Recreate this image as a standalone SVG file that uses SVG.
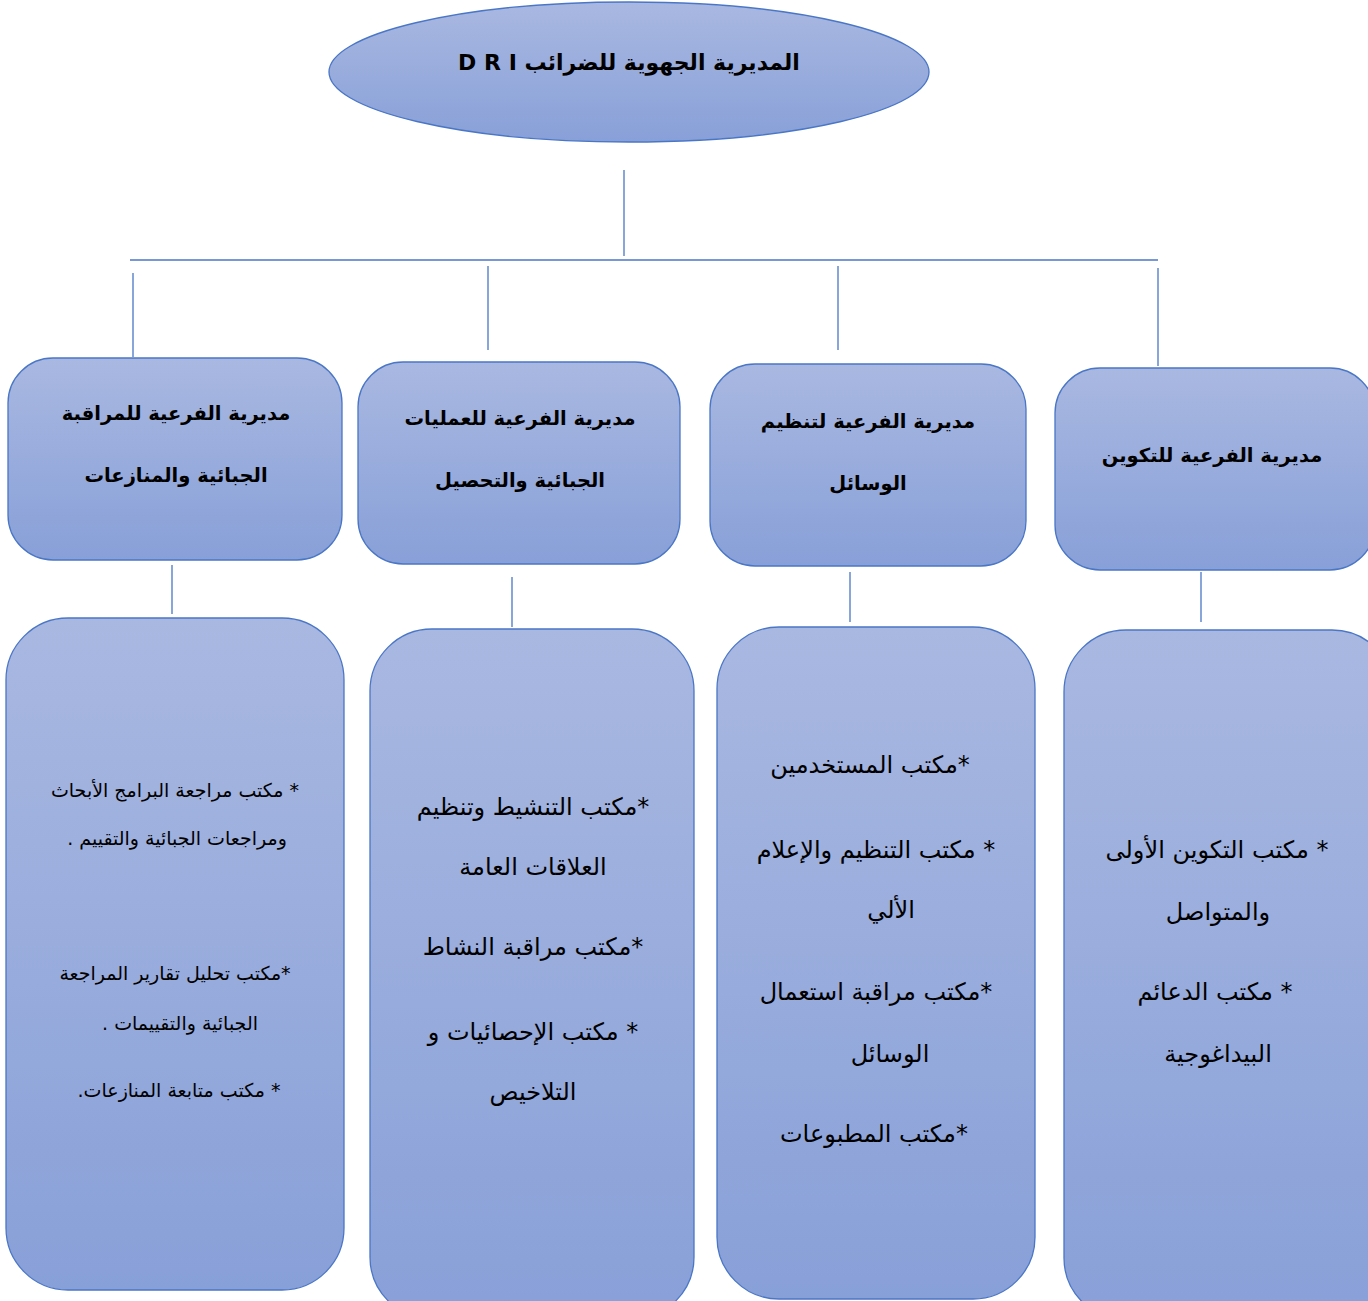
<svg xmlns="http://www.w3.org/2000/svg" width="1368" height="1301" viewBox="0 0 1368 1301">
<defs>
<linearGradient id="g" x1="0" y1="0" x2="0" y2="1">
<stop offset="0" stop-color="#a9b8e1"/>
<stop offset="1" stop-color="#88a0d8"/>
</linearGradient>
<style>
.shape{fill:url(#g);stroke:#4a76c6;stroke-width:1.3}
.ln{stroke:#4a76c6;stroke-width:1.3;fill:none}
text{font-family:"DejaVu Sans",sans-serif;fill:#000;text-anchor:middle;direction:rtl}
.t{font-size:22px;font-weight:bold}
.h{font-size:19.5px;font-weight:bold}
.c{font-size:24px}
.s{font-size:19px}
</style>
</defs>
<rect width="1368" height="1301" fill="#fff"/>
<g id="connectors">
<line class="ln" x1="624" y1="170" x2="624" y2="256"/>
<line class="ln" x1="130" y1="260" x2="1158" y2="260"/>
<line class="ln" x1="133" y1="273" x2="133" y2="357"/>
<line class="ln" x1="488" y1="266" x2="488" y2="350"/>
<line class="ln" x1="838" y1="266" x2="838" y2="350"/>
<line class="ln" x1="1158" y1="268" x2="1158" y2="366"/>
<line class="ln" x1="172" y1="565" x2="172" y2="614"/>
<line class="ln" x1="512" y1="577" x2="512" y2="627"/>
<line class="ln" x1="850" y1="572" x2="850" y2="622"/>
<line class="ln" x1="1201" y1="572" x2="1201" y2="622"/>
</g>
<g id="root">
<ellipse class="shape" cx="629" cy="72" rx="300" ry="70"/>
<text class="t" x="629" y="70">المديرية الجهوية للضرائب  D R I</text>
</g>
<g id="sub1">
<rect class="shape" x="8" y="358" width="334" height="202" rx="45"/>
<text class="h" x="176" y="420">مديرية الفرعية للمراقبة</text>
<text class="h" x="176" y="482">الجبائية والمنازعات</text>
</g>
<g id="sub2">
<rect class="shape" x="358" y="362" width="322" height="202" rx="45"/>
<text class="h" x="520" y="425">مديرية الفرعية للعمليات</text>
<text class="h" x="520" y="487">الجبائية والتحصيل</text>
</g>
<g id="sub3">
<rect class="shape" x="710" y="364" width="316" height="202" rx="45"/>
<text class="h" x="868" y="428">مديرية الفرعية لتنظيم</text>
<text class="h" x="868" y="490">الوسائل</text>
</g>
<g id="sub4">
<rect class="shape" x="1055" y="368" width="320" height="202" rx="45"/>
<text class="h" x="1212" y="462">مديرية الفرعية للتكوين</text>
</g>
<g id="offices1">
<rect class="shape" x="6" y="618" width="338" height="672" rx="62"/>
<text class="s" x="175" y="797">* مكتب مراجعة البرامج الأبحاث</text>
<text class="s" x="177" y="845">ومراجعات الجبائية والتقييم  .</text>
<text class="s" x="175" y="980">*مكتب تحليل تقارير المراجعة</text>
<text class="s" x="180" y="1030">الجبائية والتقييمات .</text>
<text class="s" x="179" y="1097">* مكتب متابعة المنازعات.</text>
</g>
<g id="offices2">
<rect class="shape" x="370" y="629" width="324" height="690" rx="62"/>
<text class="c" x="533" y="815">*مكتب التنشيط وتنظيم</text>
<text class="c" x="533" y="875">العلاقات العامة</text>
<text class="c" x="533" y="955">*مكتب مراقبة النشاط</text>
<text class="c" x="533" y="1040">* مكتب الإحصائيات و</text>
<text class="c" x="533" y="1100">التلاخيص</text>
</g>
<g id="offices3">
<rect class="shape" x="717" y="627" width="318" height="672" rx="62"/>
<text class="c" x="870" y="773">*مكتب المستخدمين</text>
<text class="c" x="876" y="858">* مكتب التنظيم والإعلام</text>
<text class="c" x="891" y="918">الألي</text>
<text class="c" x="876" y="1000">*مكتب مراقبة استعمال</text>
<text class="c" x="890" y="1062">الوسائل</text>
<text class="c" x="874" y="1142">*مكتب المطبوعات</text>
</g>
<g id="offices4">
<rect class="shape" x="1064" y="630" width="330" height="690" rx="62"/>
<text class="c" x="1217" y="858">* مكتب التكوين الأولى</text>
<text class="c" x="1218" y="920">والمتواصل</text>
<text class="c" x="1215" y="1000">* مكتب الدعائم</text>
<text class="c" x="1218" y="1062">البيداغوجية</text>
</g>
</svg>
